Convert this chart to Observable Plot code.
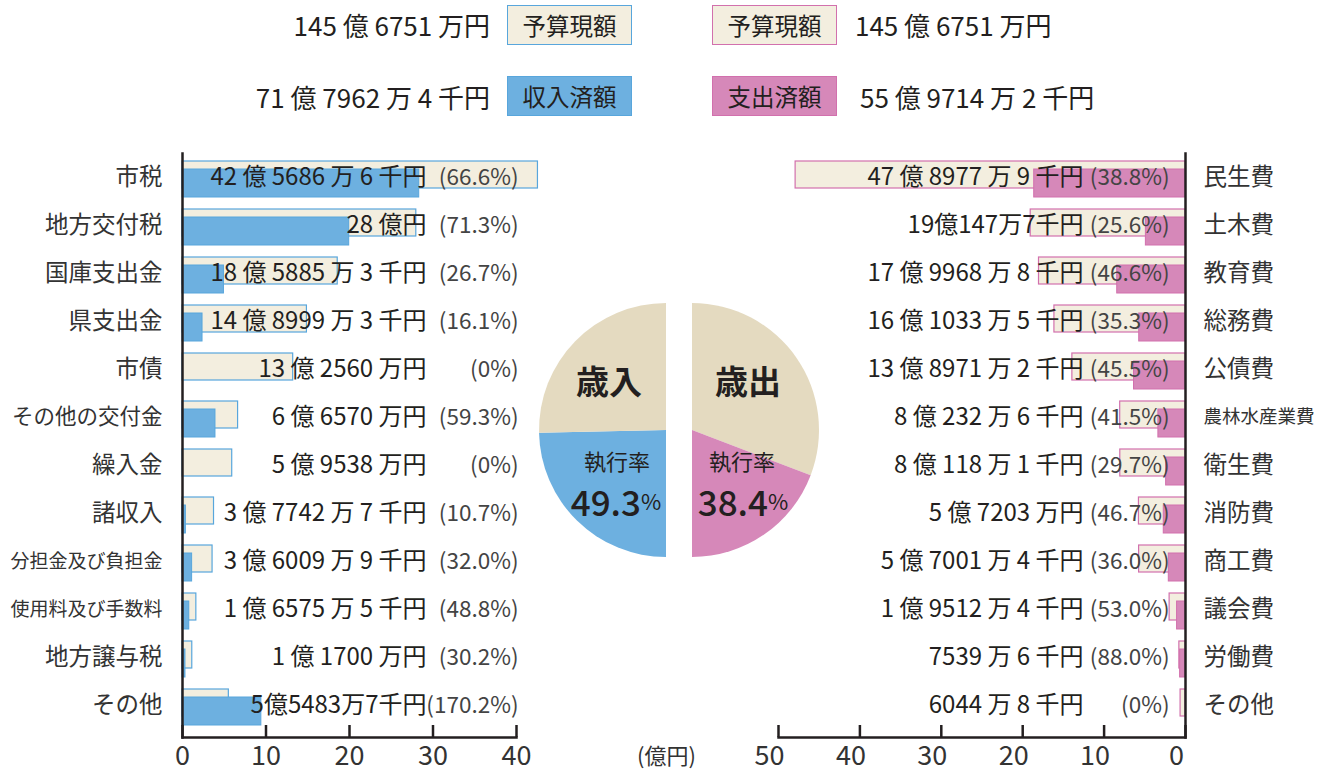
<!DOCTYPE html>
<html><head><meta charset="utf-8">
<script src="https://cdn.jsdelivr.net/npm/d3@7"></script>
<script src="https://cdn.jsdelivr.net/npm/@observablehq/plot@0.6"></script>
<style>
body{margin:0;background:#fff;font-family:"Noto Sans CJK JP","Noto Sans",sans-serif;color:#231f20;}
#root{position:relative;width:1320px;height:772px;overflow:hidden;}
.box{position:absolute;box-sizing:border-box;width:125px;height:40px;display:flex;align-items:center;justify-content:center;font-size:23.5px;color:#231f20;}
.amt{position:absolute;font-size:26px;white-space:nowrap;line-height:1;transform:translateY(-50%);color:#231f20;}
.plot{position:absolute;}
</style></head><body><div id="root"></div>
<script>
// ---- data ----
const revNames = ["市税","地方交付税","国庫支出金","県支出金","市債","その他の交付金","繰入金","諸収入","分担金及び負担金","使用料及び手数料","地方譲与税","その他"];
const revBudget = [42.568866, 28.0, 18.588853, 14.899993, 13.256, 6.657, 5.9538, 3.774427, 3.600099, 1.657555, 1.17, 5.548437];
const revRate = [66.6, 71.3, 26.7, 16.1, 0, 59.3, 0, 10.7, 32.0, 48.8, 30.2, 170.2];
const revLabels = ["42 億 5686 万 6 千円","28 億円","18 億 5885 万 3 千円","14 億 8999 万 3 千円","13 億 2560 万円","6 億 6570 万円","5 億 9538 万円","3 億 7742 万 7 千円","3 億 6009 万 9 千円","1 億 6575 万 5 千円","1 億 1700 万円","5億5483万7千円"];

const expNames = ["民生費","土木費","教育費","総務費","公債費","農林水産業費","衛生費","消防費","商工費","議会費","労働費","その他"];
const expBudget = [47.897779, 19.014777, 17.996888, 16.103335, 13.897712, 8.023226, 8.011811, 5.7203, 5.700014, 1.951244, 0.753966, 0.604488];
const expRate = [38.8, 25.6, 46.6, 35.3, 45.5, 41.5, 29.7, 46.7, 36.0, 53.0, 88.0, 0];
const expLabels = ["47 億 8977 万 9 千円","19億147万7千円","17 億 9968 万 8 千円","16 億 1033 万 5 千円","13 億 8971 万 2 千円","8 億 232 万 6 千円","8 億 118 万 1 千円","5 億 7203 万円","5 億 7001 万 4 千円","1 億 9512 万 4 千円","7539 万 6 千円","6044 万 8 千円"];

const legendNames = ["予算現額","収入済額","予算現額","支出済額"];
const legendTotals = ["145 億 6751 万円","71 億 7962 万 4 千円","145 億 6751 万円","55 億 9714 万 2 千円"];
const pieTitles = ["歳入","歳出"];
const pieRates = [49.3, 38.4];
const xTicksLeft = [0,10,20,30,40];
const xTicksRight = [0,10,20,30,40,50];

// ---- styles ----
const FONT = '"Noto Sans CJK JP","Noto Sans",sans-serif';
const INK = "#231f20";
const BEIGE = "#f3eedf", PIEBEIGE = "#e4dac0";
const BLUE = "#6db0e0", BLUE_S = "#58a6dc";
const PINK = "#d688b9", PINK_S = "#d270ad";
const pct = r => r === 0 ? "(0%)" : `(${r.toFixed(1)}%)`;

const root = document.getElementById("root");

// ---- legend ----
function addBox(text, left, top, bg, border){
  const d = document.createElement("div");
  d.className = "box"; d.textContent = text;
  d.style.left = left+"px"; d.style.top = top+"px";
  d.style.background = bg; d.style.border = `1.5px solid ${border}`;
  root.appendChild(d);
}
function addAmt(text, top, opts){
  const d = document.createElement("div");
  d.className = "amt"; d.textContent = text; d.style.top = top+"px";
  Object.assign(d.style, opts);
  root.appendChild(d);
}
addBox(legendNames[0], 507, 5, BEIGE, BLUE_S);
addBox(legendNames[1], 507, 76, BLUE, BLUE_S);
addBox(legendNames[2], 712, 5, BEIGE, PINK_S);
addBox(legendNames[3], 712, 76, PINK, PINK_S);
addAmt(legendTotals[0], 25, {right: (1320-490)+"px"});
addAmt(legendTotals[1], 97, {right: (1320-490)+"px"});
addAmt(legendTotals[2], 25, {left: "855px"});
addAmt(legendTotals[3], 97, {left: "860px"});

// ---- bars data ----
const rev = revNames.map((name,i)=>({name, budget:revBudget[i], rate:revRate[i], exec:revBudget[i]*revRate[i]/100, label:revLabels[i]}));
const exp = expNames.map((name,i)=>({name, budget:expBudget[i], rate:expRate[i], exec:expBudget[i]*expRate[i]/100, label:expLabels[i]}));

const H = 622, MT = 3, MB = 35;
const frameH = H - MT - MB;

// ---- left bars ----
const left = Plot.plot({
  width: 540, height: H, marginLeft: 182, marginRight: 24, marginTop: MT, marginBottom: MB,
  style: {fontFamily: FONT, color: INK, background: "transparent", overflow: "visible"},
  x: {domain: [0, 40]},
  y: {domain: revNames, range: [2, 579], padding: 0, axis: null},
  marks: [
    Plot.barX(rev, {x: "budget", y: "name", fill: BEIGE, stroke: BLUE_S, strokeWidth: 1.2, insetTop: 8, insetBottom: 13}),
    Plot.barX(rev, {x: "exec", y: "name", fill: BLUE, stroke: BLUE_S, strokeWidth: 1, insetTop: 16, insetBottom: 4}),
    Plot.text(rev, {y: "name", text: "label", frameAnchor: "right", textAnchor: "end", dx: -90, fontSize: 24, fill: INK}),
    Plot.text(rev, {y: "name", text: d => pct(d.rate), frameAnchor: "right", textAnchor: "end", dx: 2, fontSize: 22.5, fill: "#444"}),
    Plot.text(rev, {y: "name", text: "name", frameAnchor: "left", textAnchor: "end", dx: -20, fill: "#333",
      fontSize: d => d.name.length >= 8 ? 19 : d.name.length >= 7 ? 21.5 : 23.5}),
    Plot.ruleX(xTicksLeft, {x: d => d, insetTop: frameH - 12, stroke: INK, strokeWidth: 2.5}),
    Plot.frame({anchor: "left", stroke: INK, strokeWidth: 2.5}),
    Plot.frame({anchor: "bottom", stroke: INK, strokeWidth: 2.5}),
    Plot.axisX({ticks: xTicksLeft, tickSize: 0, tickPadding: 8, fontSize: 27, fill: "#333"})
  ]
});
left.classList.add("plot");
left.style.left = "0px"; left.style.top = "150px";
root.appendChild(left);

// ---- right bars ----
const right = Plot.plot({
  width: 560, height: H, marginLeft: 18, marginRight: 135, marginTop: MT, marginBottom: MB,
  style: {fontFamily: FONT, color: INK, background: "transparent", overflow: "visible"},
  x: {domain: [0, 50], reverse: true},
  y: {domain: expNames, range: [2, 579], padding: 0, axis: null},
  marks: [
    Plot.barX(exp, {x: "budget", y: "name", fill: BEIGE, stroke: PINK_S, strokeWidth: 1.2, insetTop: 8, insetBottom: 13}),
    Plot.barX(exp, {x: "exec", y: "name", fill: PINK, stroke: PINK_S, strokeWidth: 1, insetTop: 16, insetBottom: 4}),
    Plot.text(exp, {y: "name", text: "label", frameAnchor: "right", textAnchor: "end", dx: -102, fontSize: 24, fill: INK}),
    Plot.text(exp, {y: "name", text: d => pct(d.rate), frameAnchor: "right", textAnchor: "end", dx: -16, fontSize: 22.5, fill: "#444"}),
    Plot.text(exp, {y: "name", text: "name", frameAnchor: "right", textAnchor: "start", dx: 18, fill: "#333",
      fontSize: d => d.name.length >= 6 ? 18.5 : 23.5}),
    Plot.ruleX(xTicksRight, {x: d => d, insetTop: frameH - 12, stroke: INK, strokeWidth: 2.5}),
    Plot.frame({anchor: "right", stroke: INK, strokeWidth: 2.5}),
    Plot.frame({anchor: "bottom", stroke: INK, strokeWidth: 2.5}),
    Plot.axisX({ticks: xTicksRight, tickSize: 0, tickPadding: 8, fontSize: 27, dx: -9, fill: "#333"})
  ]
});
right.classList.add("plot");
right.style.left = "760px"; right.style.top = "150px";
root.appendChild(right);

// ---- unit label ----
const unit = document.createElement("div");
unit.textContent = "(億円)";
Object.assign(unit.style, {position: "absolute", left: "637px", top: "741px", fontSize: "22px", color: "#333", lineHeight: "1.2"});
root.appendChild(unit);

// ---- half pies ----
const R = 127;
const pie = Plot.plot({
  width: 300, height: 280, margin: 0,
  style: {fontFamily: FONT, background: "transparent", overflow: "visible"},
  marks: [
    () => {
      const g = d3.create("svg:g");
      const arc = d3.arc().innerRadius(0).outerRadius(R);
      const centers = [[136, 140], [162, 140]];
      const rv = pieRates[0] / 100, ex = pieRates[1] / 100;
      const slices = [
        {c: centers[0], s: Math.PI, e: Math.PI + rv * Math.PI, fill: BLUE},
        {c: centers[0], s: Math.PI + rv * Math.PI, e: 2 * Math.PI, fill: PIEBEIGE},
        {c: centers[1], s: 0, e: Math.PI - ex * Math.PI, fill: PIEBEIGE},
        {c: centers[1], s: Math.PI - ex * Math.PI, e: Math.PI, fill: PINK}
      ];
      for (const sl of slices) {
        g.append("path").attr("transform", `translate(${sl.c[0]},${sl.c[1]})`)
          .attr("d", arc({startAngle: sl.s, endAngle: sl.e})).attr("fill", sl.fill);
      }
      const titles = [[79, 90], [218, 90]];
      pieTitles.forEach((t, i) => {
        g.append("text").attr("x", titles[i][0]).attr("y", titles[i][1]).attr("text-anchor", "middle")
          .attr("dominant-baseline", "central").attr("font-size", 33).attr("font-weight", 700).attr("fill", INK).text(t);
      });
      const sub = [[87, 170], [212, 170]];
      const num = [[86, 210], [213, 210]];
      pieRates.forEach((r, i) => {
        g.append("text").attr("x", sub[i][0]).attr("y", sub[i][1]).attr("text-anchor", "middle")
          .attr("dominant-baseline", "central").attr("font-size", 22).attr("fill", INK).text("執行率");
        const t = g.append("text").attr("x", num[i][0]).attr("y", num[i][1]).attr("text-anchor", "middle")
          .attr("dominant-baseline", "central").attr("fill", INK);
        t.append("tspan").attr("font-size", 35).attr("font-weight", 500).text(r.toFixed(1));
        t.append("tspan").attr("font-size", 22).text("%");
      });
      return g.node();
    }
  ]
});
pie.classList.add("plot");
pie.style.left = "530px"; pie.style.top = "290px";
root.appendChild(pie);
</script>
</body></html>
